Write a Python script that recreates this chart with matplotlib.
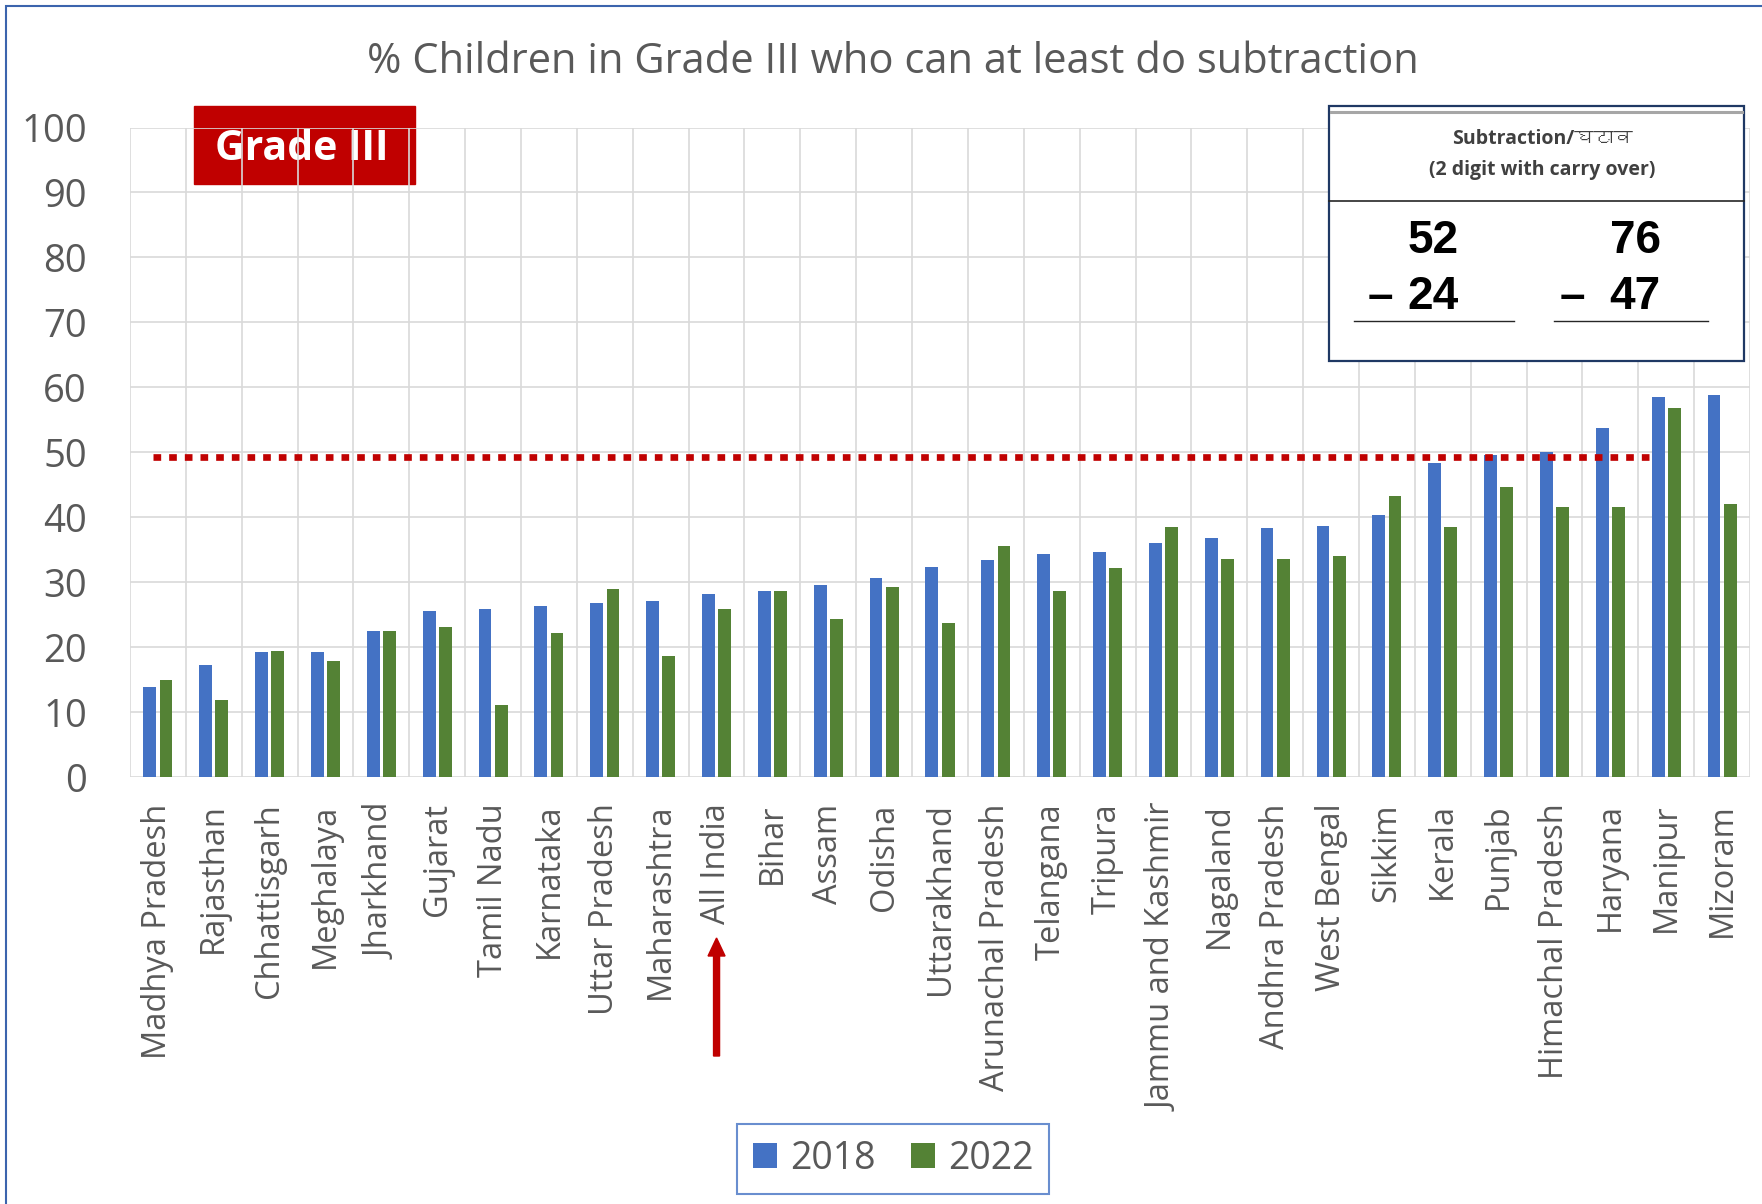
import numpy as np
import matplotlib
matplotlib.use("Agg")
import matplotlib.pyplot as plt
from matplotlib import font_manager as fm
from matplotlib.ft2font import FT2Font
from matplotlib.patches import Rectangle, FancyArrow
from matplotlib.lines import Line2D
from matplotlib.transforms import IdentityTransform

# data
states = ["Madhya Pradesh", "Rajasthan", "Chhattisgarh", "Meghalaya", "Jharkhand",
          "Gujarat", "Tamil Nadu", "Karnataka", "Uttar Pradesh", "Maharashtra",
          "All India", "Bihar", "Assam", "Odisha", "Uttarakhand", "Arunachal Pradesh",
          "Telangana", "Tripura", "Jammu and Kashmir", "Nagaland", "Andhra Pradesh",
          "West Bengal", "Sikkim", "Kerala", "Punjab", "Himachal Pradesh", "Haryana",
          "Manipur", "Mizoram"]
y2018 = [13.8, 17.3, 19.2, 19.2, 22.5, 25.6, 25.9, 26.3, 26.8, 27.1, 28.1, 28.7, 29.6,
         30.6, 32.4, 33.4, 34.3, 34.7, 36.0, 36.8, 38.4, 38.6, 40.4, 48.3, 49.6, 50.0,
         53.8, 58.5, 58.8]
y2022 = [15.0, 11.8, 19.4, 17.9, 22.5, 23.1, 11.1, 22.2, 29.0, 18.6, 25.9, 28.7, 24.4,
         29.2, 23.7, 35.6, 28.6, 32.2, 38.5, 33.6, 33.6, 34.1, 43.2, 38.5, 44.7, 41.6,
         41.6, 56.8, 42.0]
series = ["2018", "2022"]
benchmark = 49.3
highlight = "All India"
yticks = list(range(0, 101, 10))

title = "% Children in Grade III who can at least do subtraction"
badge = "Grade III"
inset_head = ["Subtraction/घटाव", "(2 digit with carry over)"]
sums = [("52", "24"), ("76", "47")]

BLUE = "#4472C4"
GREEN = "#548235"
RED = "#C00000"
GREY = "#595959"


def font_with(ch):
    # look for an installed font that has the glyph
    for f in fm.fontManager.ttflist:
        try:
            if ord(ch) in FT2Font(f.fname).get_charmap():
                return f.name
        except Exception:
            pass
    return None


deva = font_with("घ")
head_fonts = ["Open Sans"] + ([deva] if deva else []) + ["DejaVu Sans"]

plt.rcParams["font.family"] = ["Open Sans", "DejaVu Sans"]

W, H = 1762, 1204
fig = plt.figure(figsize=(W / 100, H / 100), dpi=100)
fig.patch.set_facecolor("white")


def fx(px):
    return px / W


def fy(py):
    return 1 - py / H


ax = fig.add_axes([fx(130), fy(777), fx(1750) - fx(130), fy(127.5) - fy(777)])
ax.patch.set_alpha(0)

x = np.arange(len(states))
bw = 0.23
ax.bar(x - 0.145, y2018, bw, color=BLUE, label=series[0], zorder=3)
ax.bar(x + 0.145, y2022, bw, color=GREEN, label=series[1], zorder=3)

ax.set_xlim(-0.5, len(states) - 0.5)
ax.set_ylim(0, 100)
ax.set_yticks(yticks)
ax.set_xticks(x)
ax.set_xticks(np.arange(-0.5, len(states), 1), minor=True)
ax.set_xticklabels(states, rotation=90, fontsize=23.5, color=GREY)
ax.tick_params(axis="x", which="both", length=0, pad=19)
ax.tick_params(axis="y", length=0, pad=31, labelsize=27.5, labelcolor=GREY)
ax.grid(axis="y", color="#D9D9D9", lw=1.2, zorder=0)
ax.grid(axis="x", which="minor", color="#D9D9D9", lw=1.2, zorder=0)
ax.grid(axis="x", which="major", visible=False)
for s in ax.spines.values():
    s.set_visible(False)

# 50% reference line
ax.hlines(benchmark, -0.09, 26.7, colors=RED, lw=4.8,
          linestyles=(0, (1.15, 1.2)), zorder=4, capstyle="butt")

# title
fig.text(fx(893), fy(73), title, ha="center", va="baseline", fontsize=30, color=GREY)

# red badge sits under the grid
fig.add_artist(Rectangle((fx(194), fy(184)), fx(415) - fx(194), fy(106) - fy(184),
                         transform=fig.transFigure, color=RED, zorder=-2))
fig.text(fx(302), fy(149), badge, ha="center", va="center", fontsize=29.5,
         fontweight="bold", color="white", zorder=-1)

# inset with the sample sums
fig.add_artist(Rectangle((fx(1329), fy(361)), fx(1744) - fx(1329), fy(106) - fy(361),
                         transform=fig.transFigure, facecolor="white",
                         edgecolor="#1F3864", lw=1.6, zorder=5))
fig.add_artist(Line2D([fx(1331), fx(1742)], [fy(111.5), fy(111.5)],
                      transform=fig.transFigure, color="#A6A6A6", lw=2.2, zorder=6))
fig.add_artist(Line2D([fx(1329), fx(1744)], [fy(201), fy(201)],
                      transform=fig.transFigure, color="#262626", lw=1.2, zorder=6))
fig.text(fx(1542), fy(139), inset_head[0], ha="center", va="center", fontsize=14,
         fontweight="bold", color="#404040", family=head_fonts, zorder=7)
fig.text(fx(1542), fy(170), inset_head[1], ha="center", va="center", fontsize=14,
         fontweight="bold", color="#404040", zorder=7)
for (top, bot), cx, mx, ux in zip(sums, [1433, 1635], [1380, 1572], [(1354, 1514), (1554, 1708)]):
    fig.text(fx(cx), fy(253), top, ha="center", va="baseline", fontsize=33,
             fontweight="bold", family="Liberation Sans", zorder=7)
    fig.text(fx(cx), fy(309), bot, ha="center", va="baseline", fontsize=33,
             fontweight="bold", family="Liberation Sans", zorder=7)
    fig.text(fx(mx), fy(309), "–", ha="center", va="baseline", fontsize=33,
             fontweight="bold", family="Liberation Sans", zorder=7)
    fig.add_artist(Line2D([fx(ux[0]), fx(ux[1])], [fy(321), fy(321)],
                          transform=fig.transFigure, color="#262626", lw=1.0, zorder=7))

# arrow under All India
ax_x = ax.transData.transform((states.index(highlight), 0))[0]
fig.add_artist(FancyArrow(ax_x, H - 1056, 0, 1056 - 938, width=6, head_width=17,
                          head_length=18, length_includes_head=True, color=RED,
                          transform=IdentityTransform(), zorder=5))

# legend
leg = fig.legend(loc="center", bbox_to_anchor=(fx(893), fy(1159)), ncol=2,
                 fontsize=27, frameon=True, fancybox=False, handlelength=0.64,
                 handleheight=0.64, handletextpad=0.35, columnspacing=0.95,
                 borderpad=0.42, borderaxespad=0)
leg.get_frame().set_edgecolor(BLUE)
leg.get_frame().set_linewidth(1.5)
for t in leg.get_texts():
    t.set_color(GREY)

# outer frame of the slide
fig.add_artist(Rectangle((fx(6), fy(1220)), fx(1780) - fx(6), fy(6) - fy(1220),
                         transform=fig.transFigure, fill=False, edgecolor="#3B64AD",
                         lw=1.5, zorder=10, clip_on=False))

fig.savefig("out.png", dpi=100, facecolor="white")
